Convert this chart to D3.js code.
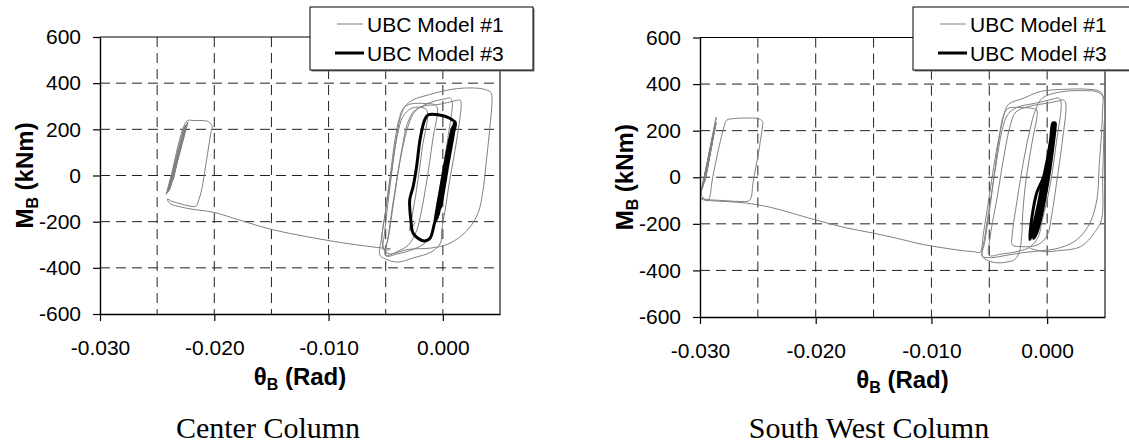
<!DOCTYPE html>
<html>
<head>
<meta charset="utf-8">
<script src="https://d3js.org/d3.v7.min.js"></script>
<style>
body { margin:0; background:#fff; }
svg { display:block; background:#fff; }
</style>
</head>
<body>
<svg id="drawing_region"></svg>
<script>
// axis ticks / grid
const x_ticks = [-0.030, -0.020, -0.010, 0.000];
const x_grid = [-0.025, -0.020, -0.015, -0.010, -0.005, 0.000];
const y_ticks = [-600, -400, -200, 0, 200, 400, 600];
const y_grid = [-400, -200, 0, 200, 400];
const series_names = ['UBC Model #1', 'UBC Model #3'];
const captions = ['Center Column', 'South West Column'];

// [theta_B (rad), M_B (kNm)]
const center_model1 = [
    [-0.0232, 80], [-0.0228, 160], [-0.0236, -20], [-0.0227, 185], [-0.0239, -50],
    [-0.0225, 210], [-0.0240, -65], [-0.0226, 200], [-0.0238, -45], [-0.0224, 225],
    [-0.0241, -75], [-0.0225, 218], [-0.0239, -60], [-0.0223, 232], [-0.0242, -82],
    [-0.0226, 215], [-0.0240, -70], [-0.0224, 236],
    [-0.0218, 238], [-0.0210, 238], [-0.0205, 233], [-0.0202, 215], [-0.0203, 185],
    [-0.0207, 60], [-0.0211, -60], [-0.0214, -112], [-0.0216, -133],
    [-0.0222, -132], [-0.0230, -122], [-0.0237, -112], [-0.0241, -102],
    [-0.0239, -120], [-0.0224, -142], [-0.0201, -159], [-0.0178, -193], [-0.0148, -236],
    [-0.0120, -264], [-0.0095, -286], [-0.0070, -304], [-0.0055, -313], [-0.0046, -318],
    [-0.0052, -322], [-0.0051, -250], [-0.0048, -120], [-0.0044, 40], [-0.0040, 180],
    [-0.0037, 255], [-0.0033, 300], [-0.0026, 328], [-0.0012, 350], [0.0004, 370],
    [0.0020, 379], [0.0035, 375], [0.0042, 360], [0.0043, 335], [0.0041, 200],
    [0.0038, 60], [0.0035, -70], [0.0031, -160], [0.0025, -215], [0.0016, -262],
    [0.0004, -298], [-0.0010, -314], [-0.0030, -320], [-0.0048, -338],
    [-0.0053, -290], [-0.0050, -150], [-0.0046, 0], [-0.0042, 150], [-0.0038, 250],
    [-0.0034, 295], [-0.0028, 310], [-0.0015, 312], [-0.0008, 308], [-0.0005, 295],
    [-0.0009, 150], [-0.0014, -20], [-0.0019, -160], [-0.0023, -240], [-0.0030, -300],
    [-0.0040, -330], [-0.0050, -345],
    [-0.0048, -270], [-0.0043, -100], [-0.0036, 100], [-0.0030, 220], [-0.0024, 280],
    [-0.0010, 318], [0.0002, 332], [0.0006, 336], [0.0008, 325],
    [0.0004, 150], [-0.0002, -30], [-0.0006, -160], [-0.0009, -245], [-0.0015, -290],
    [-0.0026, -320], [-0.0040, -340], [-0.0050, -348],
    [-0.0047, -250], [-0.0042, -80], [-0.0036, 110], [-0.0031, 225], [-0.0025, 280],
    [-0.0016, 302], [-0.0006, 306], [0.0004, 316], [0.0012, 325], [0.0015, 327], [0.0016, 315],
    [0.0012, 150], [0.0006, -20], [0.0002, -150], [-0.0001, -236], [-0.0002, -292],
    [-0.0010, -331], [-0.0026, -357], [-0.0039, -375], [-0.0048, -366], [-0.0055, -345],
    [-0.0054, -280], [-0.0050, -150], [-0.0045, 20], [-0.0040, 170], [-0.0035, 255],
    [-0.0028, 290], [-0.0020, 296], [-0.0014, 282], [-0.0018, 120], [-0.0023, -60],
    [-0.0027, -180], [-0.0029, -240], [-0.0024, -200]
];

const center_model3 = [
    [0.0000, 0], [0.0004, 110], [-0.0003, -90], [0.0006, 160], [-0.0005, -140],
    [0.0008, 200], [-0.0006, -175], [0.0010, 226],
    [0.0009, 184], [0.0002, 11], [-0.0004, -162], [-0.0007, -201], [-0.0011, -270],
    [-0.0015, -283], [-0.0019, -280], [-0.0026, -250], [-0.0028, -193], [-0.0029, -106],
    [-0.0026, -48], [-0.0023, 38], [-0.0020, 154], [-0.0016, 240], [-0.0013, 262],
    [-0.0003, 262], [0.0006, 248], [0.0011, 226],
    [0.0009, 180], [-0.0004, -170], [0.0010, 225], [-0.0006, -195], [0.0009, 215],
    [-0.0003, -150], [0.0011, 232], [-0.0007, -200], [0.0008, 205], [-0.0005, -185],
    [0.0010, 220], [-0.0002, -140], [0.0007, 180], [-0.0004, -160], [0.0005, 120],
    [-0.0001, -40], [0.0002, 40]
];

const sw_model1 = [
    [-0.0292, 80], [-0.0289, 160], [-0.0295, 0], [-0.0288, 190], [-0.0297, -30],
    [-0.0287, 215], [-0.0298, -50], [-0.0288, 200], [-0.0296, -20], [-0.0286, 235],
    [-0.0299, -60], [-0.0287, 225], [-0.0298, -45], [-0.0286, 258], [-0.0290, 140],
    [-0.0295, 0], [-0.0299, -70], [-0.0296, -95],
    [-0.0293, -100], [-0.0289, 0], [-0.0284, 120], [-0.0279, 220], [-0.0277, 245],
    [-0.0270, 252], [-0.0260, 254], [-0.0250, 252], [-0.0246, 240], [-0.0246, 220],
    [-0.0248, 150], [-0.0250, 89], [-0.0254, -18], [-0.0256, -90], [-0.0258, -102],
    [-0.0266, -104], [-0.0280, -100], [-0.0293, -96], [-0.0300, -90],
    [-0.0297, -97], [-0.0290, -101], [-0.0275, -105], [-0.0260, -111], [-0.0240, -128],
    [-0.0220, -155], [-0.0201, -182], [-0.0173, -218], [-0.0151, -239], [-0.0130, -262],
    [-0.0107, -289], [-0.0090, -303], [-0.0075, -314], [-0.0063, -320], [-0.0058, -322],
    [-0.0055, -239], [-0.0050, -80], [-0.0045, 80], [-0.0040, 210], [-0.0036, 290],
    [-0.0033, 315], [-0.0020, 340], [-0.0006, 368], [0.0017, 378], [0.0035, 378],
    [0.0045, 370], [0.0048, 354], [0.0048, 300], [0.0047, 190], [0.0045, 50],
    [0.0043, -96], [0.0037, -196], [0.0026, -267], [0.0011, -303], [-0.0010, -318],
    [-0.0021, -324], [-0.0035, -335], [-0.0048, -345], [-0.0056, -339],
    [-0.0054, -280], [-0.0050, -150], [-0.0046, 0], [-0.0042, 150], [-0.0038, 260],
    [-0.0034, 295], [-0.0025, 300], [-0.0012, 295], [-0.0009, 290], [-0.0013, 150],
    [-0.0018, 0], [-0.0021, -150], [-0.0022, -250], [-0.0024, -320], [-0.0028, -353],
    [-0.0036, -365], [-0.0044, -367], [-0.0051, -358], [-0.0056, -339],
    [-0.0054, -260], [-0.0049, -100], [-0.0044, 60], [-0.0039, 200], [-0.0034, 270],
    [-0.0026, 300], [-0.0010, 318], [0.0004, 334], [0.0010, 340], [0.0012, 325],
    [0.0008, 150], [0.0002, -50], [-0.0004, -180], [-0.0008, -260], [-0.0015, -300],
    [-0.0025, -318], [-0.0040, -330], [-0.0050, -335],
    [-0.0049, -250], [-0.0043, -80], [-0.0037, 100], [-0.0032, 220], [-0.0027, 280],
    [-0.0015, 305], [0.0000, 318], [0.0010, 328], [0.0014, 332], [0.0016, 320],
    [0.0013, 150], [0.0008, -30], [0.0004, -160], [0.0000, -250], [-0.0008, -290],
    [-0.0022, -298], [-0.0030, -290],
    [-0.0030, -240], [-0.0026, -100], [-0.0020, 80], [-0.0015, 200], [-0.0010, 290],
    [-0.0004, 340], [0.0010, 365], [0.0030, 372], [0.0044, 365], [0.0049, 340],
    [0.0049, 200], [0.0048, 0], [0.0047, -182], [0.0041, -237], [0.0029, -298],
    [0.0010, -315], [-0.0003, -319], [-0.0015, -305]
];

const sw_model3 = [
    [0.0000, 0], [0.0003, 100], [-0.0004, -80], [0.0005, 160], [-0.0007, -130],
    [0.0006, 200], [-0.0010, -180], [0.0007, 225], [-0.0013, -235], [-0.0015, -267],
    [-0.0013, -167], [-0.0009, -67], [-0.0003, 4], [0.0003, 161], [0.0005, 233],
    [0.0007, 232], [0.0007, 218], [0.0000, -39], [-0.0009, -239], [-0.0012, -262],
    [0.0006, 210], [-0.0008, -200], [0.0007, 228], [-0.0006, -150], [0.0005, 190],
    [-0.0011, -245], [0.0004, 150], [-0.0003, -60], [0.0002, 60], [0.0000, 0]
];

d3.select('#drawing_region')
    .attr('width', 1129)
    .attr('height', 446);

class HysteresisChart {

    constructor(config, gray, black, caption) {
	this.config = config;
	this.gray = gray;
	this.black = black;
	this.caption = caption;
	this.init();
    }

    init() {
	let self = this;
	const c = self.config;

	self.chart = d3.select('#drawing_region').append('g');

	self.xscale = d3.scaleLinear()
	    .domain([-0.030, 0.005])
	    .range([c.left, c.right]);

	self.yscale = d3.scaleLinear()
	    .domain([-600, 600])
	    .range([c.bottom, c.top]);

	self.xaxis = d3.axisBottom(self.xscale)
	    .tickValues(x_ticks)
	    .tickFormat(d => d.toFixed(3))
	    .tickSizeInner(7)
	    .tickSizeOuter(0)
	    .tickPadding(19);

	self.yaxis = d3.axisLeft(self.yscale)
	    .tickValues(y_ticks)
	    .tickFormat(d => String(d))
	    .tickSizeInner(7)
	    .tickSizeOuter(0)
	    .tickPadding(12);
    }

    render() {
	let self = this;
	const c = self.config;
	const font = "'Liberation Sans', Arial, sans-serif";

	// dashed grid
	self.chart.append('g')
	    .selectAll('line')
	    .data(x_grid)
	    .join('line')
	    .attr('x1', d => self.xscale(d))
	    .attr('x2', d => self.xscale(d))
	    .attr('y1', c.top)
	    .attr('y2', c.bottom)
	    .attr('stroke', '#222')
	    .attr('stroke-width', 1)
	    .attr('stroke-dasharray', '10,6');

	self.chart.append('g')
	    .selectAll('line')
	    .data(y_grid)
	    .join('line')
	    .attr('x1', c.left)
	    .attr('x2', c.right)
	    .attr('y1', d => self.yscale(d))
	    .attr('y2', d => self.yscale(d))
	    .attr('stroke', '#222')
	    .attr('stroke-width', 1)
	    .attr('stroke-dasharray', '10,6');

	// top and right frame
	self.chart.append('line')
	    .attr('x1', c.left).attr('x2', c.right)
	    .attr('y1', c.top).attr('y2', c.top)
	    .attr('stroke', '#000');
	self.chart.append('line')
	    .attr('x1', c.right).attr('x2', c.right)
	    .attr('y1', c.top).attr('y2', c.bottom)
	    .attr('stroke', '#555')
	    .attr('stroke-width', 1.6);

	const line = d3.line()
	    .x(d => self.xscale(d[0]))
	    .y(d => self.yscale(d[1]))
	    .curve(d3.curveCatmullRom.alpha(0.5));

	self.chart.append('path')
	    .attr('d', line(self.gray))
	    .attr('fill', 'none')
	    .attr('stroke', '#808080')
	    .attr('stroke-width', 1);

	self.chart.append('path')
	    .attr('d', line(self.black))
	    .attr('fill', 'none')
	    .attr('stroke', '#000')
	    .attr('stroke-width', 3)
	    .attr('stroke-linejoin', 'round');

	// axes
	const xg = self.chart.append('g')
	    .attr('transform', `translate(0, ${c.bottom})`)
	    .call(self.xaxis)
	    .attr('font-size', 21)
	    .attr('font-family', font);
	const yg = self.chart.append('g')
	    .attr('transform', `translate(${c.left}, 0)`)
	    .call(self.yaxis)
	    .attr('font-size', 21)
	    .attr('font-family', font);
	[xg, yg].forEach(g => {
	    g.selectAll('path').attr('stroke', '#000').attr('stroke-width', 1.4);
	    g.selectAll('line').attr('stroke', '#000').attr('stroke-width', 1.2);
	    g.selectAll('text').attr('fill', '#000');
	});

	// legend
	const lx = c.legend_x;
	const legend = self.chart.append('g');
	legend.append('rect')
	    .attr('x', lx + 1.5).attr('y', 8.5)
	    .attr('width', 223).attr('height', 63)
	    .attr('fill', '#777');
	legend.append('rect')
	    .attr('x', lx).attr('y', 7)
	    .attr('width', 223).attr('height', 63)
	    .attr('fill', '#fff')
	    .attr('stroke', '#000')
	    .attr('stroke-width', 1);
	const rows = [
	    {name: series_names[0], y: 24, color: '#808080', w: 1, x1: 27, x2: 53},
	    {name: series_names[1], y: 53, color: '#000', w: 3, x1: 25, x2: 54}
	];
	rows.forEach(r => {
	    legend.append('line')
		.attr('x1', lx + r.x1).attr('x2', lx + r.x2)
		.attr('y1', r.y).attr('y2', r.y)
		.attr('stroke', r.color)
		.attr('stroke-width', r.w);
	    legend.append('text')
		.attr('x', lx + 57)
		.attr('y', r.y + 8)
		.attr('font-family', font)
		.attr('font-size', 21)
		.text(r.name);
	});

	// axis titles
	const xt = self.chart.append('text')
	    .attr('x', (c.left + c.right) / 2)
	    .attr('y', c.bottom + 71)
	    .attr('text-anchor', 'middle')
	    .attr('font-family', font)
	    .attr('font-weight', 'bold')
	    .attr('font-size', 24);
	xt.append('tspan').text('\u03b8');
	xt.append('tspan').attr('dy', 5).attr('font-size', 16).text('B');
	xt.append('tspan').attr('dy', -5).text(' (Rad)');

	const yt = self.chart.append('text')
	    .attr('transform', `translate(${c.left - 67}, ${(c.top + c.bottom) / 2}) rotate(-90)`)
	    .attr('text-anchor', 'middle')
	    .attr('font-family', font)
	    .attr('font-weight', 'bold')
	    .attr('font-size', 24);
	yt.append('tspan').text('M');
	yt.append('tspan').attr('dy', 5).attr('font-size', 16).text('B');
	yt.append('tspan').attr('dy', -5).text(' (kNm)');

	// caption
	self.chart.append('text')
	    .attr('x', c.caption_x)
	    .attr('y', 438)
	    .attr('text-anchor', 'middle')
	    .attr('font-family', "'Liberation Serif', 'Times New Roman', serif")
	    .attr('font-size', 30)
	    .text(self.caption);
    }
}

const center_chart = new HysteresisChart(
    {left: 100, right: 500, top: 37, bottom: 314, legend_x: 310, caption_x: 268},
    center_model1, center_model3, captions[0]);
center_chart.render();

const sw_chart = new HysteresisChart(
    {left: 700, right: 1105, top: 37.5, bottom: 317, legend_x: 913, caption_x: 869},
    sw_model1, sw_model3, captions[1]);
sw_chart.render();
</script>
</body>
</html>
